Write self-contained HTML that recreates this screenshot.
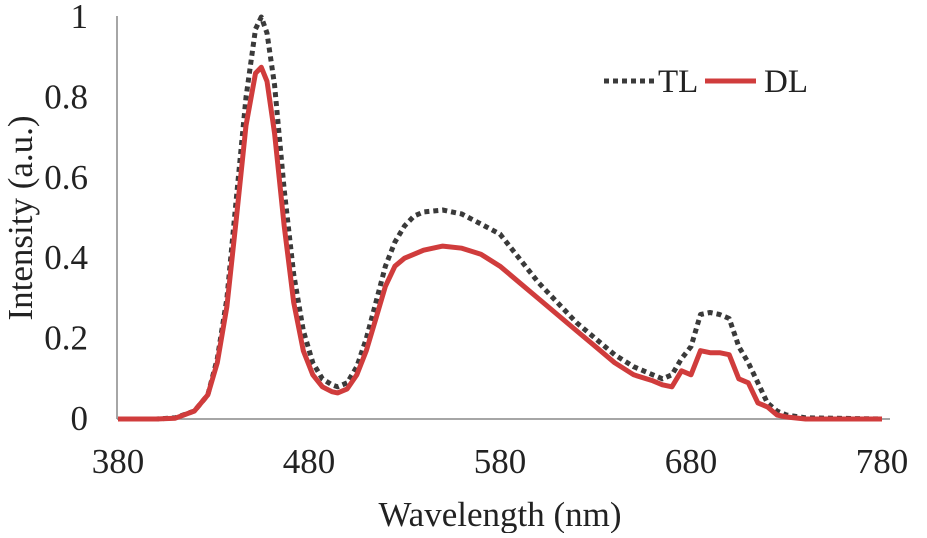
<!DOCTYPE html>
<html><head><meta charset="utf-8"><style>
body{margin:0;background:#fff;}
svg text{font-family:"Liberation Serif",serif;fill:#222;}
</style></head><body>
<svg width="927" height="533" xmlns="http://www.w3.org/2000/svg">
<g id="plot"></g>
<script>
const wavelengths=[380,400,410,420,427,432,437,442,447,452,455,458,462,467,472,477,482,487,492,495,500,505,510,515,520,525,530,535,540,550,560,570,580,590,600,610,620,630,640,650,660,665,670,675,680,685,690,695,700,705,710,715,720,725,730,740,780];
const tlValues=[0,0,0.003,0.02,0.06,0.15,0.3,0.55,0.8,0.97,1.0,0.96,0.83,0.57,0.36,0.22,0.14,0.1,0.085,0.08,0.09,0.13,0.2,0.29,0.38,0.44,0.48,0.505,0.515,0.52,0.51,0.485,0.46,0.4,0.34,0.29,0.24,0.2,0.16,0.13,0.11,0.1,0.11,0.15,0.18,0.26,0.265,0.26,0.25,0.18,0.14,0.09,0.04,0.02,0.01,0.003,0];
const dlValues=[0,0,0.002,0.02,0.06,0.14,0.28,0.5,0.73,0.86,0.875,0.84,0.71,0.48,0.29,0.17,0.11,0.08,0.068,0.065,0.075,0.11,0.17,0.25,0.33,0.38,0.4,0.41,0.42,0.43,0.425,0.41,0.38,0.34,0.3,0.26,0.22,0.18,0.14,0.11,0.095,0.085,0.08,0.12,0.11,0.17,0.165,0.165,0.16,0.1,0.09,0.04,0.03,0.01,0.005,0,0];
const xTicks=[380,480,580,680,780];
const yTicks=[0,0.2,0.4,0.6,0.8,1];
const yTickLabels=["0","0.2","0.4","0.6","0.8","1"];
const NS="http://www.w3.org/2000/svg";
const g=document.getElementById('plot');
const x=v=>118+(v-380)*(882-118)/400;
const y=v=>419-v*402;
function mk(t,a){const e=document.createElementNS(NS,t);for(const k in a)e.setAttribute(k,a[k]);g.appendChild(e);return e;}
let ax=mk('line',{x1:117,y1:16,x2:117,y2:419,stroke:'#888','stroke-width':1.5});


let bx=mk('line',{x1:117,y1:419,x2:890,y2:419,stroke:'#888','stroke-width':1.5});


xTicks.forEach(v=>{const t=mk('text',{x:x(v),y:473,'text-anchor':'middle','font-size':35});t.textContent=v;

});
yTicks.forEach((v,i)=>{const t=mk('text',{x:88,y:y(v)+11,'text-anchor':'end','font-size':35});t.textContent=yTickLabels[i];

});
function path(vals){return vals.map((v,i)=>(i?'L':'M')+x(wavelengths[i]).toFixed(1)+','+y(v).toFixed(1)).join('');}
let tl=mk('path',{d:path(tlValues),fill:'none',stroke:'#3a3a3a','stroke-width':5,'stroke-dasharray':'5,4','stroke-linejoin':'round'});


let dl=mk('path',{d:path(dlValues),fill:'none',stroke:'#d03c3c','stroke-width':5,'stroke-linejoin':'round'});


</script>
<text x="32" y="218" font-size="35" text-anchor="middle" transform="rotate(-90 32 218)">Intensity (a.u.)</text>
<text x="500" y="526" font-size="35" text-anchor="middle">Wavelength (nm)</text>
<g>
<line x1="604" y1="81" x2="655" y2="81" stroke="#3a3a3a" stroke-width="5" stroke-dasharray="5,4"/>
<text x="658" y="92" font-size="33">TL</text>
<line x1="705" y1="81" x2="756" y2="81" stroke="#d03c3c" stroke-width="5"/>
<text x="764" y="92" font-size="33">DL</text>
</g>
</svg>
</body></html>
